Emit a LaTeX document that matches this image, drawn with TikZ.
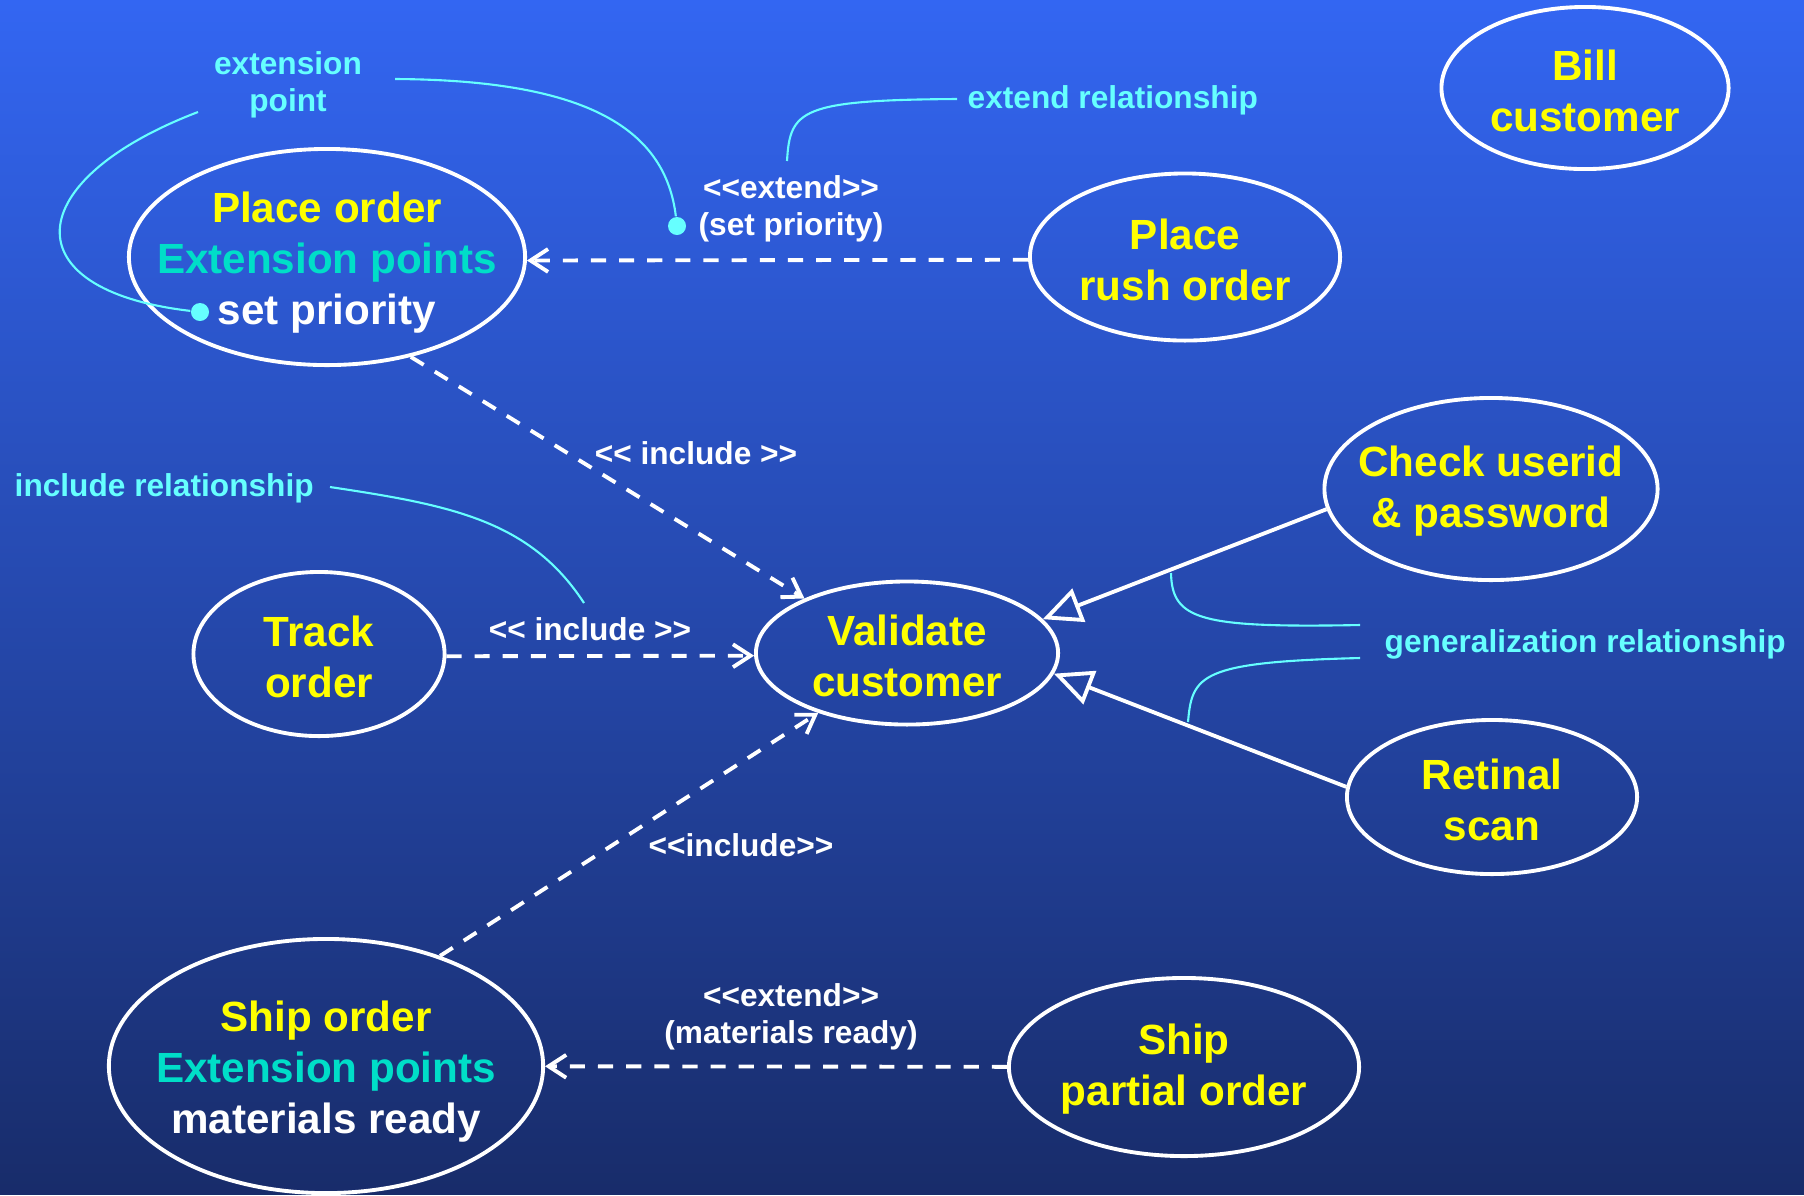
\documentclass[tikz,border=0pt]{standalone}
\usepackage{fontspec}
\setmainfont[Ligatures=TeXOff]{Liberation Sans}
\usepackage{tikz}
\usetikzlibrary{shapes.geometric, arrows.meta}

\definecolor{bgtop}{RGB}{51,102,242}
\definecolor{bgbot}{RGB}{24,44,106}
\definecolor{ucyellow}{RGB}{255,255,0}
\definecolor{extpt}{RGB}{0,222,200}
\definecolor{notecyan}{RGB}{102,255,255}

\begin{document}
\begin{tikzpicture}[x=0.01cm, y=-0.01cm]
\tikzstyle{usecase} = [draw=white, line width=1.1pt, ellipse, inner sep=0pt]
\tikzstyle{uctext} = [text=ucyellow, align=center, inner sep=0pt, yshift=-0.7pt, font=\fontsize{12}{14.5}\selectfont\bfseries]
\tikzstyle{lbl} = [text=white, align=center, inner sep=0pt, font=\fontsize{9}{10.5}\selectfont\bfseries]
\tikzstyle{notetext} = [text=notecyan, align=center, inner sep=0pt, font=\fontsize{9}{10.5}\selectfont\bfseries]
\tikzstyle{noteline} = [notecyan, line width=0.6pt]
\tikzstyle{dot} = [fill=notecyan, circle, inner sep=0pt, minimum size=0.18cm]
\tikzstyle{dep} = [white, line width=1.1pt, dash pattern=on 4.3pt off 3.7pt, -{Straight Barb[length=5pt,width=6.5pt]}]
\tikzstyle{gen} = [white, line width=1.1pt, -{Triangle[open,length=11pt,width=10pt]}]

\shade[top color=bgtop, bottom color=bgbot] (0,0) rectangle (1804,1194);

% use cases
\node[usecase, minimum width=3.96cm, minimum height=2.16cm,
  label={[uctext, yshift=-1pt]center:Place order\\\textcolor{extpt}{Extension points}\\\textcolor{white}{set priority}}] (place) at (327,257) {};
\node[usecase, minimum width=3.10cm, minimum height=1.67cm,
  label={[uctext]center:Place\\rush order}] (rush) at (1185,257) {};
\node[usecase, minimum width=2.87cm, minimum height=1.62cm,
  label={[uctext]center:Bill\\customer}] (bill) at (1585,88) {};
\node[usecase, minimum width=3.02cm, minimum height=1.43cm,
  label={[uctext]center:Validate\\customer}] (validate) at (907,653) {};
\node[usecase, minimum width=2.51cm, minimum height=1.64cm,
  label={[uctext]center:Track\\order}] (track) at (319,654) {};
\node[usecase, minimum width=3.33cm, minimum height=1.82cm,
  label={[uctext]center:Check userid\\\& password}] (check) at (1491,489) {};
\node[usecase, minimum width=2.90cm, minimum height=1.54cm,
  label={[uctext]center:Retinal\\scan}] (retinal) at (1492,797) {};
\node[usecase, minimum width=4.34cm, minimum height=2.54cm,
  label={[uctext, yshift=-1pt]center:Ship order\\\textcolor{extpt}{Extension points}\\\textcolor{white}{materials ready}}] (shiporder) at (326,1066) {};
\node[usecase, minimum width=3.50cm, minimum height=1.78cm,
  label={[uctext]center:Ship\\partial order}] (partial) at (1184,1067) {};

% relationships
\draw[dep] (rush.181.5) -- (place.-1.2);
\draw[dep] (place.-50) -- (validate.152);
\draw[dep] (track.-1.5) -- (validate.181.5);
\draw[dep] (shiporder.44) -- (validate.214);
\draw[dep] (partial) -- (shiporder);
\draw[gen] (check.187) -- (validate.14);
\draw[gen] (retinal.176) -- (validate.-8.5);

\node[lbl] (ext1) at (791,209) {<<extend>>\\(set priority)};
\node[lbl] (inc1) at (696,453) {<< include >>};
\node[lbl] (inc2) at (590,629) {<< include >>};
\node[lbl] (inc3) at (741,845) {<<include>>};
\node[lbl] (ext2) at (791,1017) {<<extend>>\\(materials ready)};

% notes
\node[dot] (spdot) at (200,312) {};
\node[dot] (xdot) at (677,226) {};
\node[notetext] (extpoint) at (288,85) {extension\\point};
\node[notetext, anchor=west] (extrel) at (967,100) {extend relationship};
\node[notetext, anchor=west] (increl) at (14,488) {include relationship};
\node[notetext, anchor=west] (genrel) at (1384,644) {generalization relationship};

\coordinate (ep1) at (395,79);
\coordinate (ep2) at (198,112);
\coordinate (er) at (957,99);
\coordinate (erend) at (787,161);
\coordinate (ir) at (330,487);
\coordinate (irend) at (584,603);
\coordinate (gr1) at (1360,625);
\coordinate (gr1end) at (1171,573);
\coordinate (gr2) at (1360,658);
\coordinate (gr2end) at (1188,722);

\draw[noteline] (ep1) .. controls (580,80) and (665,125) .. (xdot);
\draw[noteline] (ep2) .. controls (20,180) and (10,290) .. (spdot);
\draw[noteline] (er) .. controls (800,100) and (790,110) .. (erend);
\draw[noteline] (ir) .. controls (450,505) and (530,520) .. (irend);
\draw[noteline] (gr1) .. controls (1200,628) and (1172,620) .. (gr1end);
\draw[noteline] (gr2) .. controls (1200,662) and (1192,675) .. (gr2end);

\end{tikzpicture}
\end{document}
